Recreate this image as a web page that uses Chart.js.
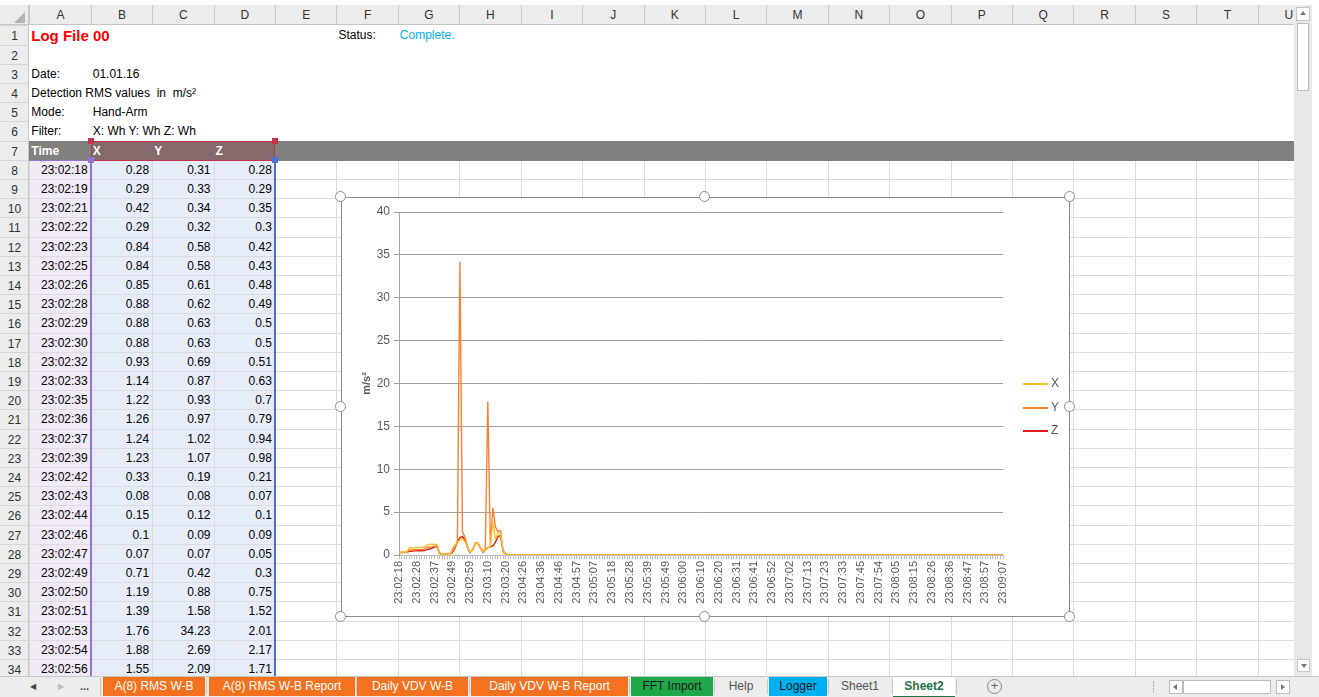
<!DOCTYPE html>
<html>
<head>
<meta charset="utf-8">
<script src="https://cdn.jsdelivr.net/npm/chart.js@4.4.0/dist/chart.umd.min.js"></script>
<style>
  body { margin:0; width:1319px; height:697px; overflow:hidden; background:#fff;
         font-family:"Liberation Sans", Arial, sans-serif; font-size:12px; color:#000; position:relative; }
  .a { position:absolute; box-sizing:border-box; }
  .cell { position:absolute; white-space:pre; overflow:visible; }
  #grid { position:absolute; left:0; top:0; width:1294px; height:676px; overflow:hidden; }
  #chartBox { position:absolute; left:341px; top:197px; width:729px; height:420px; background:#fff;
              border:1px solid #8c8c8c; box-sizing:border-box; }
  #chartBox canvas { position:absolute; left:-1px; top:-1px; }
  .handle { position:absolute; width:11px; height:11px; border-radius:50%; background:#fff;
            border:1.5px solid #8c8c8c; box-sizing:border-box; }
  .leg { position:absolute; font-size:12px; color:#595959; }
  .tab { position:absolute; top:677px; height:19px; line-height:19px; text-align:center; font-size:12px; }
</style>
</head>
<body>
<div id="grid"></div>
<div id="chartBox"><canvas id="myChart" width="729" height="420"></canvas></div>
<div id="tabs"></div>
<script>
// time stamps of the logged samples (category axis)
const timeLabels = [
  '23:02:18','23:02:19','23:02:21','23:02:22','23:02:23','23:02:25','23:02:26',
  '23:02:28','23:02:29','23:02:30','23:02:32','23:02:33','23:02:35','23:02:36',
  '23:02:37','23:02:39','23:02:42','23:02:43','23:02:44','23:02:46','23:02:47',
  '23:02:49','23:02:50','23:02:51','23:02:53','23:02:54','23:02:56','23:02:57',
  '23:02:59','23:03:00','23:03:02','23:03:03','23:03:05','23:03:06','23:03:08',
  '23:03:10','23:03:11','23:03:13','23:03:14','23:03:15','23:03:17','23:03:18',
  '23:03:20','23:03:21','23:03:23','23:03:24','23:04:21','23:04:23','23:04:24',
  '23:04:26','23:04:27','23:04:29','23:04:30','23:04:31','23:04:33','23:04:34',
  '23:04:36','23:04:37','23:04:39','23:04:40','23:04:41','23:04:43','23:04:44',
  '23:04:46','23:04:48','23:04:49','23:04:51','23:04:52','23:04:54','23:04:55',
  '23:04:57','23:04:58','23:05:00','23:05:01','23:05:02','23:05:04','23:05:05',
  '23:05:07','23:05:09','23:05:10','23:05:12','23:05:13','23:05:15','23:05:16',
  '23:05:18','23:05:19','23:05:21','23:05:22','23:05:23','23:05:25','23:05:26',
  '23:05:28','23:05:30','23:05:31','23:05:33','23:05:34','23:05:36','23:05:37',
  '23:05:39','23:05:40','23:05:42','23:05:43','23:05:44','23:05:46','23:05:47',
  '23:05:49','23:05:51','23:05:52','23:05:54','23:05:55','23:05:57','23:05:58',
  '23:06:00','23:06:01','23:06:03','23:06:04','23:06:05','23:06:07','23:06:08',
  '23:06:10','23:06:11','23:06:13','23:06:14','23:06:15','23:06:17','23:06:18',
  '23:06:20','23:06:22','23:06:23','23:06:25','23:06:26','23:06:28','23:06:29',
  '23:06:31','23:06:32','23:06:34','23:06:35','23:06:36','23:06:38','23:06:39',
  '23:06:41','23:06:43','23:06:44','23:06:46','23:06:47','23:06:49','23:06:50',
  '23:06:52','23:06:53','23:06:55','23:06:56','23:06:57','23:06:59','23:07:00',
  '23:07:02','23:07:04','23:07:05','23:07:07','23:07:08','23:07:10','23:07:11',
  '23:07:13','23:07:14','23:07:16','23:07:17','23:07:18','23:07:20','23:07:21',
  '23:07:23','23:07:24','23:07:26','23:07:27','23:07:28','23:07:30','23:07:31',
  '23:07:33','23:07:35','23:07:37','23:07:38','23:07:40','23:07:42','23:07:43',
  '23:07:45','23:07:46','23:07:47','23:07:49','23:07:50','23:07:51','23:07:53',
  '23:07:54','23:07:56','23:07:57','23:07:59','23:08:00','23:08:02','23:08:03',
  '23:08:05','23:08:06','23:08:08','23:08:09','23:08:10','23:08:12','23:08:13',
  '23:08:15','23:08:17','23:08:18','23:08:20','23:08:21','23:08:23','23:08:24',
  '23:08:26','23:08:27','23:08:29','23:08:30','23:08:31','23:08:33','23:08:34',
  '23:08:36','23:08:38','23:08:39','23:08:41','23:08:42','23:08:44','23:08:45',
  '23:08:47','23:08:48','23:08:50','23:08:51','23:08:52','23:08:54','23:08:55',
  '23:08:57','23:08:58','23:09:00','23:09:01','23:09:02','23:09:04','23:09:05',
  '23:09:07'
];

// RMS values m/s² — first 27 from the sheet, the rest
const xHead = [0.28,0.29,0.42,0.29,0.84,0.84,0.85,0.88,0.88,0.88,0.93,1.14,1.22,1.26,1.24,1.23,0.33,0.08,0.15,0.1,
  0.07,0.71,1.19,1.39,1.76,1.88,1.55,0.9,0.3,0.6,1.25,1.4,0.9,0.35,0.6,0.8,1.0,3.8,1.9,2.5,2.55,0.45,0.12,0.03];
const yHead = [0.31,0.33,0.34,0.32,0.58,0.58,0.61,0.62,0.63,0.63,0.69,0.87,0.93,0.97,1.02,1.07,0.19,0.08,0.12,0.09,
  0.07,0.42,0.88,1.58,34.23,2.69,2.09,1.0,0.3,0.65,1.35,1.45,0.95,0.4,0.7,17.9,1.05,5.5,3.3,2.7,2.85,0.55,0.15,0.04];
const zHead = [0.28,0.29,0.35,0.3,0.42,0.43,0.48,0.49,0.5,0.5,0.51,0.63,0.7,0.79,0.94,0.98,0.21,0.07,0.1,0.09,
  0.05,0.3,0.75,1.52,2.01,2.17,1.71,0.85,0.28,0.6,1.3,1.42,0.85,0.3,0.55,0.85,0.95,1.05,1.5,2.15,2.25,0.4,0.1,0.03];

// flat tail after 23:03:2x (195 samples)
const xTail = [
  0.02,0.02,0.02,0.02,0.02,0.02,0.02,0.02,0.02,0.02,0.02,0.02,0.02,0.02,0.02,
  0.02,0.02,0.02,0.02,0.02,0.02,0.02,0.02,0.02,0.02,0.02,0.02,0.02,0.02,0.02,
  0.02,0.02,0.02,0.02,0.02,0.02,0.02,0.02,0.02,0.02,0.02,0.02,0.02,0.02,0.02,
  0.02,0.02,0.02,0.02,0.02,0.02,0.02,0.02,0.02,0.02,0.02,0.02,0.02,0.02,0.02,
  0.02,0.02,0.02,0.02,0.02,0.02,0.02,0.02,0.02,0.02,0.02,0.02,0.02,0.02,0.02,
  0.02,0.02,0.02,0.02,0.02,0.02,0.02,0.02,0.02,0.02,0.02,0.02,0.02,0.02,0.02,
  0.02,0.02,0.02,0.02,0.02,0.02,0.02,0.02,0.02,0.02,0.02,0.02,0.02,0.02,0.02,
  0.02,0.02,0.02,0.02,0.02,0.02,0.02,0.02,0.02,0.02,0.02,0.02,0.02,0.02,0.02,
  0.02,0.02,0.02,0.02,0.02,0.02,0.02,0.02,0.02,0.02,0.02,0.02,0.02,0.02,0.02,
  0.02,0.02,0.02,0.02,0.02,0.02,0.02,0.02,0.02,0.02,0.02,0.02,0.02,0.02,0.02,
  0.02,0.02,0.02,0.02,0.02,0.02,0.02,0.02,0.02,0.02,0.02,0.02,0.02,0.02,0.02,
  0.02,0.02,0.02,0.02,0.02,0.02,0.02,0.02,0.02,0.02,0.02,0.02,0.02,0.02,0.02,
  0.02,0.02,0.02,0.02,0.02,0.02,0.02,0.02,0.02,0.02,0.02,0.02,0.02,0.02,0.02
];
const yTail = [
  0.02,0.02,0.02,0.02,0.02,0.02,0.02,0.02,0.02,0.02,0.02,0.02,0.02,0.02,0.02,
  0.02,0.02,0.02,0.02,0.02,0.02,0.02,0.02,0.02,0.02,0.02,0.02,0.02,0.02,0.02,
  0.02,0.02,0.02,0.02,0.02,0.02,0.02,0.02,0.02,0.02,0.02,0.02,0.02,0.02,0.02,
  0.02,0.02,0.02,0.02,0.02,0.02,0.02,0.02,0.02,0.02,0.02,0.02,0.02,0.02,0.02,
  0.02,0.02,0.02,0.02,0.02,0.02,0.02,0.02,0.02,0.02,0.02,0.02,0.02,0.02,0.02,
  0.02,0.02,0.02,0.02,0.02,0.02,0.02,0.02,0.02,0.02,0.02,0.02,0.02,0.02,0.02,
  0.02,0.02,0.02,0.02,0.02,0.02,0.02,0.02,0.02,0.02,0.02,0.02,0.02,0.02,0.02,
  0.02,0.02,0.02,0.02,0.02,0.02,0.02,0.02,0.02,0.02,0.02,0.02,0.02,0.02,0.02,
  0.02,0.02,0.02,0.02,0.02,0.02,0.02,0.02,0.02,0.02,0.02,0.02,0.02,0.02,0.02,
  0.02,0.02,0.02,0.02,0.02,0.02,0.02,0.02,0.02,0.02,0.02,0.02,0.02,0.02,0.02,
  0.02,0.02,0.02,0.02,0.02,0.02,0.02,0.02,0.02,0.02,0.02,0.02,0.02,0.02,0.02,
  0.02,0.02,0.02,0.02,0.02,0.02,0.02,0.02,0.02,0.02,0.02,0.02,0.02,0.02,0.02,
  0.02,0.02,0.02,0.02,0.02,0.02,0.02,0.02,0.02,0.02,0.02,0.02,0.02,0.02,0.02
];
const zTail = [
  0.01,0.01,0.01,0.01,0.01,0.01,0.01,0.01,0.01,0.01,0.01,0.01,0.01,0.01,0.01,
  0.01,0.01,0.01,0.01,0.01,0.01,0.01,0.01,0.01,0.01,0.01,0.01,0.01,0.01,0.01,
  0.01,0.01,0.01,0.01,0.01,0.01,0.01,0.01,0.01,0.01,0.01,0.01,0.01,0.01,0.01,
  0.01,0.01,0.01,0.01,0.01,0.01,0.01,0.01,0.01,0.01,0.01,0.01,0.01,0.01,0.01,
  0.01,0.01,0.01,0.01,0.01,0.01,0.01,0.01,0.01,0.01,0.01,0.01,0.01,0.01,0.01,
  0.01,0.01,0.01,0.01,0.01,0.01,0.01,0.01,0.01,0.01,0.01,0.01,0.01,0.01,0.01,
  0.01,0.01,0.01,0.01,0.01,0.01,0.01,0.01,0.01,0.01,0.01,0.01,0.01,0.01,0.01,
  0.01,0.01,0.01,0.01,0.01,0.01,0.01,0.01,0.01,0.01,0.01,0.01,0.01,0.01,0.01,
  0.01,0.01,0.01,0.01,0.01,0.01,0.01,0.01,0.01,0.01,0.01,0.01,0.01,0.01,0.01,
  0.01,0.01,0.01,0.01,0.01,0.01,0.01,0.01,0.01,0.01,0.01,0.01,0.01,0.01,0.01,
  0.01,0.01,0.01,0.01,0.01,0.01,0.01,0.01,0.01,0.01,0.01,0.01,0.01,0.01,0.01,
  0.01,0.01,0.01,0.01,0.01,0.01,0.01,0.01,0.01,0.01,0.01,0.01,0.01,0.01,0.01,
  0.01,0.01,0.01,0.01,0.01,0.01,0.01,0.01,0.01,0.01,0.01,0.01,0.01,0.01,0.01
];

const xValues = xHead.concat(xTail);
const yValues = yHead.concat(yTail);
const zValues = zHead.concat(zTail);

const seriesNames = ['X', 'Y', 'Z'];
const seriesColors = ['#fcc12e', '#fb8132', '#e01b1b'];

const sheetTabs = [
  ['A(8) RMS W-B', 103, 102, '#f4711f', '#fff'],
  ['A(8) RMS W-B Report', 209, 146, '#f4711f', '#fff'],
  ['Daily VDV W-B', 357, 111, '#f4711f', '#fff'],
  ['Daily VDV W-B Report', 471, 157, '#f4711f', '#fff'],
  ['FFT Import', 631, 82, '#1fa84a', '#1a1a1a'],
  ['Help', 716, 50, '#ececec', '#555'],
  ['Logger', 769, 58, '#00b0f0', '#1a1a1a'],
  ['Sheet1', 829, 62, '#ececec', '#555'],
  ['Sheet2', 893, 62, '#ffffff', '#217346']
];

// ---------- spreadsheet around the chart ----------
const COL_X0 = 29.3, COL_W = 61.42, ROW_Y0 = 25.4, ROW_H = 19.2, HEAD_Y = 5;
const grid = document.getElementById('grid');
const colL = c => COL_X0 + c * COL_W;
const rowT = r => ROW_Y0 + (r - 1) * ROW_H;

function el(parent, x, y, w, h, css, text, cls) {
  const d = document.createElement('div');
  d.className = cls || 'a';
  Object.assign(d.style, { left: x + 'px', top: y + 'px', width: w + 'px', height: h + 'px' }, css || {});
  if (text != null) d.textContent = text;
  parent.appendChild(d);
  return d;
}

// chart data range highlight
el(grid, colL(0), rowT(8), COL_W, ROW_H * 28, { background: '#efeaf6' });
el(grid, colL(1), rowT(8), COL_W * 3, ROW_H * 28, { background: '#e6edf8' });

// gridlines
for (let c = 0; c <= 21; c++) el(grid, colL(c), 25, 1, 660, { background: '#dcdcdc' });
for (let r = 1; r <= 35; r++) el(grid, 28, rowT(r), 1300, 1, { background: '#dcdcdc' });

// rows 1-6 are white-filled (no gridlines)
el(grid, colL(0), rowT(1), 1300, ROW_H * 6, { background: '#fff' });

// header band row 7
el(grid, colL(0), rowT(7), 1300, ROW_H + 1, { background: '#808080' });
el(grid, colL(1), rowT(7), COL_W * 3, ROW_H + 1, { background: '#86696b' });

// column headers
el(grid, 0, HEAD_Y, 1300, 20.4, { background: '#ececec', borderBottom: '1px solid #c6c6c6' });
'ABCDEFGHIJKLMNOPQRSTU'.split('').forEach((L, i) => {
  el(grid, colL(i), HEAD_Y, COL_W, 20.4, { textAlign: 'center', lineHeight: '20px', color: '#333',
    borderLeft: '1px solid #c9c9c9', fontSize: '12px' }, L);
});
// row headers
el(grid, 0, HEAD_Y, 29, 680, { background: '#ececec', borderRight: '1px solid #c6c6c6' });
for (let r = 1; r <= 34; r++) {
  el(grid, 0, rowT(r), 29, ROW_H, { textAlign: 'center', lineHeight: (ROW_H + 1) + 'px', color: '#333',
    borderTop: '1px solid #d4d4d4' }, String(r));
}
// select-all corner
el(grid, 0, HEAD_Y, 29, 20.4, { background: '#ececec', borderRight: '1px solid #c6c6c6', borderBottom: '1px solid #c6c6c6' });
el(grid, 14, 12, 0, 0, { borderLeft: '11px solid transparent', borderBottom: '11px solid #b5b5b5' });

function cellText(col, row, text, css) {
  const base = { lineHeight: (ROW_H + 2) + 'px', height: ROW_H + 'px' };
  const x = colL(col);
  return el(grid, x + 2, rowT(row), COL_W - 5, ROW_H, Object.assign(base, css || {}), text, 'cell');
}

cellText(0, 1, 'Log File 00', { color: '#ff0000', fontWeight: 'bold', fontSize: '15px' });
cellText(5, 1, 'Status:');
cellText(6, 1, 'Complete.', { color: '#00b0f0' });
cellText(0, 3, 'Date:');
cellText(1, 3, '01.01.16');
cellText(0, 4, 'Detection RMS values  in  m/s\u00b2');
cellText(0, 5, 'Mode:');
cellText(1, 5, 'Hand-Arm');
cellText(0, 6, 'Filter:');
cellText(1, 6, 'X: Wh Y: Wh Z: Wh');
cellText(0, 7, 'Time', { color: '#fff', fontWeight: 'bold' });
seriesNames.forEach((n, i) => cellText(i + 1, 7, n, { color: '#fff', fontWeight: 'bold' }));

for (let i = 0; i < 27; i++) {
  const r = 8 + i;
  cellText(0, r, timeLabels[i], { textAlign: 'right' });
  cellText(1, r, String(xValues[i]), { textAlign: 'right' });
  cellText(2, r, String(yValues[i]), { textAlign: 'right' });
  cellText(3, r, String(zValues[i]), { textAlign: 'right' });
}

// range outlines
el(grid, colL(1) - 1, rowT(8), 2, ROW_H * 28, { background: '#9575cd' });
el(grid, colL(0), rowT(8), COL_W, 1.5, { background: '#9575cd' });
el(grid, colL(4) - 1, rowT(8), 2, ROW_H * 28, { background: '#4a72d4' });
el(grid, colL(1), rowT(7), COL_W * 3, ROW_H + 1, { border: '1.5px solid #c0354a', background: 'transparent' });
[[colL(1), rowT(7)], [colL(4), rowT(7)], [colL(1), rowT(8)], [colL(4), rowT(8)]].forEach(([x, y], k) => {
  el(grid, x - 3, y - 3, 6, 6, { background: k === 2 ? '#9575cd' : (k === 3 ? '#4a72d4' : '#c0354a') });
});

// scrollbars
el(document.body, 1294, 5, 18, 671, { background: '#e8e8e8' });
el(document.body, 1296, 7, 14, 14, { background: '#fff', border: '1px solid #c6c6c6' });
el(document.body, 1300, 11, 0, 0, { borderLeft: '3px solid transparent', borderRight: '3px solid transparent', borderBottom: '4px solid #777' });
el(document.body, 1297, 23, 12, 68, { background: '#fff', border: '1px solid #bdbdbd' });
el(document.body, 1297, 659, 13, 13, { background: '#fff', border: '1px solid #c6c6c6' });
el(document.body, 1301, 664, 0, 0, { borderLeft: '3px solid transparent', borderRight: '3px solid transparent', borderTop: '4px solid #777' });

// sheet tabs bar
const tabs = document.getElementById('tabs');
el(tabs, 0, 676, 1319, 21, { background: '#ececec', borderTop: '1px solid #c6c6c6' });
el(tabs, 30, 681, 12, 12, { color: '#444', fontSize: '8px', lineHeight: '12px' }, '\u25c0');
el(tabs, 58, 681, 12, 12, { color: '#bbb', fontSize: '8px', lineHeight: '12px' }, '\u25b6');
el(tabs, 80, 679, 20, 14, { color: '#444', fontSize: '11px', lineHeight: '14px', fontWeight: 'bold' }, '...');
el(tabs, 100, 678, 1, 18, { background: '#c6c6c6' });
sheetTabs.forEach(([name, x, w, bg, fg]) => {
  const t = el(tabs, x, 677, w, 19, { background: bg, color: fg }, name, 'tab');
  if (name === 'Sheet2') { t.style.fontWeight = 'bold'; t.style.borderBottom = '2px solid #217346'; t.style.lineHeight = '18px'; }
  el(tabs, x + w + 1, 679, 1, 15, { background: '#c9c9c9' });
});
el(tabs, 987, 679, 15, 15, { border: '1px solid #888', borderRadius: '50%', textAlign: 'center', lineHeight: '12px', color: '#666', fontSize: '13px' }, '+');
el(tabs, 1153, 681, 2, 12, { borderLeft: '1px dotted #999' });
el(tabs, 1169, 680, 14, 14, { background: '#fff', border: '1px solid #bbb' });
el(tabs, 1173, 684, 0, 0, { borderTop: '3px solid transparent', borderBottom: '3px solid transparent', borderRight: '4px solid #777' });
el(tabs, 1183, 680, 88, 14, { background: '#fff', border: '1px solid #bbb' });
el(tabs, 1276, 680, 14, 14, { background: '#fff', border: '1px solid #bbb' });
el(tabs, 1281, 684, 0, 0, { borderTop: '3px solid transparent', borderBottom: '3px solid transparent', borderLeft: '4px solid #777' });

// ---------- chart ----------
const box = document.getElementById('chartBox');
[[0, 0], [364, 0], [729, 0], [0, 210], [729, 210], [0, 420], [364, 420], [729, 420]].forEach(([x, y]) => {
  el(document.body, 341 + x - 6, 197 + y - 6, 11, 11, {}, null, 'handle');
});

// legend (right side, short line + name)
seriesNames.forEach((n, i) => {
  const y = Math.round(185 + i * 23.5);
  el(box, 681, y, 25, 2, { background: seriesColors[i] });
  el(box, 709, y - 7, 20, 15, {}, n, 'leg');
});

const ctx = document.getElementById('myChart').getContext('2d');
new Chart(ctx, {
  type: 'line',
  data: {
    labels: timeLabels,
    datasets: [
      { label: seriesNames[0], data: xValues, borderColor: seriesColors[0], borderWidth: 1.4, pointRadius: 0, tension: 0, fill: false },
      { label: seriesNames[1], data: yValues, borderColor: seriesColors[1], borderWidth: 1.4, pointRadius: 0, tension: 0, fill: false },
      { label: seriesNames[2], data: zValues, borderColor: seriesColors[2], borderWidth: 1.4, pointRadius: 0, tension: 0, fill: false }
    ]
  },
  options: {
    responsive: false,
    animation: false,
    layout: { padding: { left: 0, right: 67, top: 15, bottom: 0 } },
    plugins: { legend: { display: false }, tooltip: { enabled: false } },
    scales: {
      x: {
        offset: false,
        grid: { drawOnChartArea: false, drawTicks: true, tickLength: 4, color: '#bfbfbf' },
        border: { color: '#bfbfbf' },
        ticks: {
          autoSkip: false, maxRotation: 90, minRotation: 90, padding: 2,
          color: '#595959', font: { family: 'Liberation Sans', size: 11 },
          callback: (v, i) => (i % 7 === 0 ? timeLabels[i] : '')
        },
        afterFit: s => { s.height = 62; }
      },
      y: {
        min: 0, max: 40,
        grid: { color: '#a3a3a3', tickLength: 5 },
        border: { color: '#a3a3a3' },
        ticks: { stepSize: 5, padding: 4, color: '#595959', font: { family: 'Liberation Sans', size: 12 } },
        title: { display: true, text: 'm/s\u00b2', color: '#595959', font: { family: 'Liberation Sans', size: 11, weight: 'bold' },
                 padding: { top: 19, bottom: 0 } },
        afterFit: s => { s.width = 58; }
      }
    }
  }
});
</script>
</body>
</html>
